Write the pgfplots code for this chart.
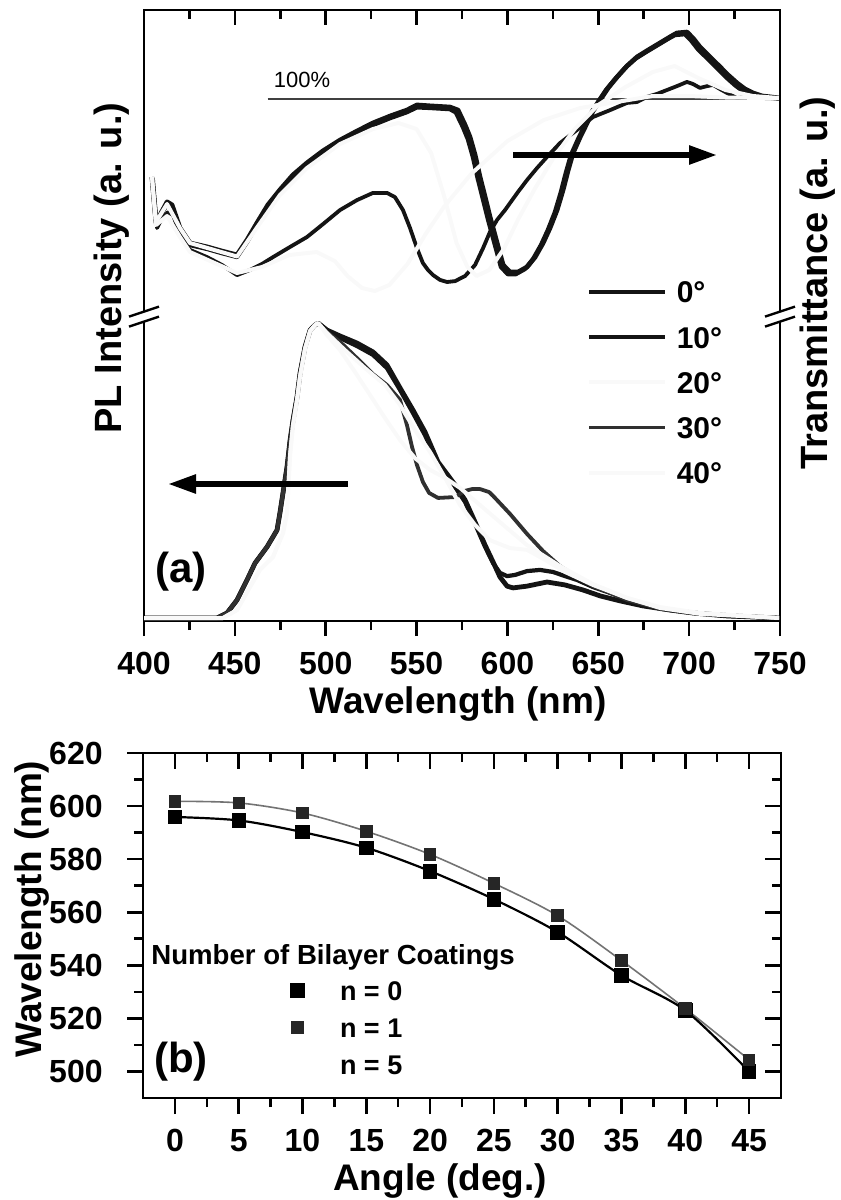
\documentclass[border=0pt]{standalone}
\usepackage{fontspec}
\setmainfont{Liberation Sans}
\usepackage{pgfplots}
\pgfplotsset{compat=1.18}
\usetikzlibrary{arrows.meta}
\definecolor{dk}{gray}{0.08}
\definecolor{lt}{gray}{0.975}
\begin{document}
\begin{tikzpicture}
\useasboundingbox (0,0) rectangle (420.5pt,-600pt);

% ---------- panel (a): transmittance (upper part), top ticks ----------
\begin{axis}[
  at={(72pt,-310.5pt)}, anchor=south west, scale only axis,
  width=318pt, height=305.5pt,
  xmin=400, xmax=750, ymin=-74, ymax=129.667,
  xtick={400,450,...,750}, minor x tick num=1,
  xtick pos=right, tick align=inside, xticklabels={},
  ytick=\empty,
  major tick length=7.5pt, minor tick length=4.5pt,
  axis line style={line width=1.3pt},
  tick style={black, line width=1.3pt},
]
\addplot[black!75, line width=0.6pt] coordinates {(468,100) (750,100)};
% 0 deg
\addplot[dk, line width=2.4pt, line join=round] coordinates {
(404.4,74.0)(406.6,59.0)(408.8,61.3)(412.7,65.7)(415.4,64.7)(419.8,57.0)(425.3,52.0)(434.7,50.7)(442.9,49.3)(451.2,48.0)(456.7,53.0)(462.2,58.7)(468.2,64.7)(474.8,69.7)(482.0,74.7)(489.7,78.7)(498.5,82.7)(507.9,86.3)(517.2,89.3)(526.0,92.0)(535.4,94.3)(544.7,96.3)(550.2,98.0)(557.4,97.7)(568.4,97.3)(572.8,96.3)(576.7,91.3)(579.4,87.3)(582.2,81.3)(584.9,74.0)(587.7,67.3)(590.4,60.7)(594.3,52.0)(597.6,44.7)(601.4,42.3)(605.8,42.3)(610.8,44.0)(615.2,47.3)(619.6,52.0)(623.4,57.0)(627.3,63.0)(630.6,69.7)(633.4,76.3)(636.1,82.0)(640.0,87.3)(643.8,92.0)(647.1,96.0)(651.0,99.7)(655.4,103.7)(660.3,107.3)(665.8,111.0)(671.3,114.0)(677.4,116.3)(684.0,118.7)(689.5,120.7)(693.3,122.0)(698.8,122.3)(702.1,120.3)(706.0,117.3)(711.5,114.0)(717.0,110.7)(721.4,108.0)(726.4,105.3)(730.8,103.3)(735.2,102.0)(740.1,101.0)(744.5,100.7)(750.0,100.3)};
% 10 deg
\addplot[dk, line width=2.1pt, line join=round] coordinates {
(404.4,73.5)(406.6,58.4)(408.8,60.6)(412.7,65.0)(415.4,64.0)(419.8,56.3)(425.3,51.3)(434.7,50.0)(442.9,48.6)(451.2,47.3)(456.7,52.3)(462.2,58.0)(468.2,64.0)(474.8,69.0)(482.0,74.0)(489.7,78.0)(498.5,82.0)(507.9,85.6)(517.2,88.6)(526.0,91.3)(535.4,93.6)(544.7,95.6)(550.2,97.2)(557.4,97.0)(568.4,96.6)(571.6,95.5)(575.5,90.6)(578.2,86.6)(581.0,80.6)(583.7,73.3)(586.5,66.6)(589.2,60.0)(593.1,51.3)(596.4,44.0)(600.2,41.6)(604.6,41.6)(609.6,43.3)(614.0,46.6)(618.4,51.3)(622.2,56.3)(626.1,62.3)(629.4,69.0)(632.2,75.6)(634.9,81.3)(638.8,86.6)(642.6,91.3)(645.9,95.3)(649.8,99.0)(654.2,103.0)(659.1,106.6)(664.6,110.3)(670.1,113.3)(676.2,115.6)(682.8,118.0)(688.3,120.0)(692.1,121.3)(697.6,121.6)(700.9,119.6)(704.8,116.6)(710.3,113.3)(715.8,110.0)(720.2,107.3)(725.2,104.6)(729.6,102.6)(734.0,101.4)(740.1,100.6)(744.5,100.4)(750.0,100.1)};
% 30 deg
\addplot[dk, line width=1.9pt, line join=round] coordinates {
(405.0,73.0)(407.2,57.0)(409.4,59.7)(413.2,62.3)(416.0,61.3)(419.8,54.7)(425.3,49.7)(434.7,47.3)(442.9,44.7)(451.2,41.3)(458.3,43.0)(464.9,45.0)(471.0,47.3)(480.4,50.7)(489.7,54.0)(498.5,58.3)(507.9,63.0)(517.2,66.3)(526.0,68.7)(533.7,68.7)(538.1,67.3)(542.5,63.0)(546.4,57.0)(550.2,50.3)(553.5,45.3)(556.3,43.0)(559.1,41.3)(562.9,39.7)(566.8,39.0)(571.2,39.3)(576.7,41.0)(582.2,44.7)(586.6,50.3)(590.4,55.7)(594.3,59.7)(598.7,63.0)(601.4,65.3)(605.8,69.0)(610.8,73.0)(616.3,77.0)(621.8,80.7)(628.9,85.3)(638.3,89.7)(647.1,94.0)(656.5,96.3)(665.8,98.7)(671.3,99.0)(676.8,100.7)(682.3,101.7)(687.8,103.0)(693.3,104.3)(698.8,105.7)(702.1,105.0)(706.0,103.7)(709.9,104.3)(713.2,104.7)(717.0,103.3)(720.9,102.0)(726.4,100.3)(730.8,100.7)(735.2,100.7)(741.8,100.3)(750.0,100.3)};
% 20 deg (nearly white)
\addplot[lt, line width=2pt, line join=round] coordinates {
(404.4,74)(406.6,59)(412.7,65)(419.8,57)(425.3,52)(451.2,47.5)(462,57)(474.8,68)(489.7,77)(507.9,85)(526,90)(540,92)(550,90)(558,82)(565,68)(572,52)(578,44)(583,41)(590,43)(598,50)(606,60)(615,70)(625,80)(637,90)(650,98)(665,104)(680,109)(692,111)(705,107)(720,103)(735,101)(750,100.3)};
% 40 deg (nearly white)
\addplot[lt, line width=2pt, line join=round] coordinates {
(404.4,74)(406.6,58)(412.7,61)(419.8,54)(425.3,49)(451.2,42)(465,44)(480,48)(495,49)(505,46)(512,41)(520,37)(527,36)(535,38)(545,45)(555,55)(565,64)(580,75)(600,86)(620,93)(640,97)(660,99)(680,101)(700,101)(720,100.5)(750,100.3)};
\end{axis}

% ---------- panel (a): PL (lower part), bottom ticks, legend ----------
\begin{axis}[
  at={(72pt,-310.5pt)}, anchor=south west, scale only axis,
  width=318pt, height=305.5pt,
  xmin=400, xmax=750, ymin=-0.0102, ymax=2.061,
  xtick={400,450,...,750}, minor x tick num=1,
  xtick pos=left, tick align=outside,
  ytick=\empty,
  major tick length=7.5pt, minor tick length=4.5pt,
  axis line style={line width=1.3pt},
  tick style={black, line width=1.3pt},
  /pgf/number format/assume math mode=true,
  xticklabel style={font=\fontsize{16}{19}\selectfont\bfseries, inner sep=0pt, anchor=north, yshift=-8pt},
  legend style={at={(0.6965,0.5565)}, anchor=north west, draw=none, fill=none,
    inner sep=0pt, outer sep=0pt, row sep=11.6pt, column sep=4.5pt,
    font=\fontsize{15}{18}\selectfont\bfseries,
    nodes={inner sep=0pt, text height=11pt, text depth=0pt}},
  legend cell align=left,
  legend image code/.code={\draw[#1] (0pt,0pt) -- (38pt,0pt);},
]
% 0 deg
\addplot[dk, line width=2.4pt, line join=round] coordinates {
(400.0,0)(440.2,0)(445.7,0.017)(451.2,0.061)(456.7,0.129)(461.1,0.186)(467.7,0.241)(473.2,0.298)(474.8,0.356)(476.5,0.424)(478.7,0.512)(480.4,0.603)(482.0,0.671)(484.2,0.749)(485.9,0.831)(488.6,0.919)(491.4,0.976)(494.1,0.993)(495.8,1.000)
(500.7,0.976)(507.9,0.956)(517.2,0.932)(526.0,0.902)(533.7,0.858)(540.9,0.780)(548.0,0.705)(554.6,0.631)(561.8,0.529)(571.2,0.451)(576.7,0.400)(582.2,0.325)(587.7,0.247)(592.1,0.190)(595.9,0.139)(599.8,0.108)(603.1,0.102)(610.8,0.108)(621.8,0.122)(631.7,0.112)(641.6,0.095)(651.0,0.075)(662.0,0.058)(674.6,0.041)(689.5,0.027)(702.1,0.017)(720.9,0.007)(749.5,0.0)};
\addlegendentry{0°}
% 10 deg
\addplot[dk, line width=2.1pt, line join=round] coordinates {
(400.0,0)(440.2,0)(445.7,0.017)(451.2,0.061)(456.7,0.129)(461.1,0.186)(467.7,0.241)(473.2,0.298)(474.8,0.356)(476.5,0.424)(478.7,0.512)(480.4,0.603)(482.0,0.671)(484.2,0.749)(485.9,0.831)(488.6,0.919)(491.4,0.976)(494.1,0.993)(495.8,1.000)
(500.7,0.973)(507.9,0.949)(517.2,0.922)(526.0,0.892)(533.7,0.847)(540.9,0.773)(548.0,0.695)(554.6,0.620)(561.8,0.522)(571.2,0.444)(576.7,0.393)(582.2,0.319)(587.7,0.241)(592.1,0.186)(595.9,0.153)(599.8,0.142)(604.2,0.146)(610.8,0.159)(617.9,0.163)(625.1,0.156)(631.7,0.142)(638.3,0.129)(647.1,0.105)(656.5,0.085)(665.8,0.064)(674.6,0.044)(689.5,0.027)(702.1,0.017)(720.9,0.007)(749.5,0.0)};
\addlegendentry{10°}
\addlegendimage{lt, line width=2pt}
\addlegendentry{20°}
% 30 deg
\addplot[dk!88, line width=1.9pt, line join=round] coordinates {
(400.0,0)(440.2,0)(445.7,0.017)(451.2,0.061)(456.7,0.129)(461.1,0.186)(467.7,0.241)(473.2,0.298)(474.8,0.356)(476.5,0.424)(478.7,0.512)(480.4,0.603)(482.0,0.671)(484.2,0.749)(485.9,0.831)(488.6,0.919)(491.4,0.976)(494.1,0.993)(495.8,1.000)
(500.7,0.969)(507.9,0.936)(517.2,0.881)(526.0,0.827)(533.7,0.790)(540.9,0.739)(544.7,0.654)(547.5,0.580)(550.2,0.519)(553.5,0.461)(556.9,0.424)(561.8,0.407)(571.2,0.410)(576.7,0.431)(580.5,0.437)(584.9,0.437)(589.9,0.427)(592.1,0.414)(601.4,0.353)(610.8,0.285)(619.6,0.227)(628.9,0.176)(638.3,0.139)(647.1,0.108)(656.5,0.085)(665.8,0.061)(674.6,0.047)(684.0,0.031)(698.3,0.020)(721.4,0.010)(749.5,0.0)};
\addlegendentry{30°}
\addlegendimage{lt, line width=2pt}
\addlegendentry{40°}
% 20 deg (nearly white)
\addplot[lt, line width=2pt, line join=round, forget plot] coordinates {
(400,0)(443.5,0)(451.2,0.027)(458.3,0.105)(463.8,0.163)(471.0,0.207)(476.5,0.288)(478.7,0.356)(480.4,0.553)(482.0,0.654)(484.2,0.739)(485.9,0.820)(488.6,0.912)(491.4,0.973)(494.1,0.993)(495.8,1.0)
(500.7,0.966)(510.6,0.908)(521.6,0.847)(532.6,0.790)(540.9,0.722)(549.1,0.637)(557.4,0.563)(565.7,0.475)(573.9,0.383)(582.2,0.315)(590.4,0.264)(601.4,0.237)(610.8,0.231)(620.7,0.197)(631.7,0.156)(647.1,0.112)(665.8,0.068)(684.0,0.034)(706.0,0.014)(749.5,0.0)};
% 40 deg (nearly white)
\addplot[lt, line width=2pt, line join=round, forget plot] coordinates {
(400,0)(443.5,0)(451.2,0.027)(458.3,0.105)(463.8,0.163)(471.0,0.207)(476.5,0.288)(478.7,0.356)(480.4,0.553)(482.0,0.654)(484.2,0.739)(485.9,0.820)(488.6,0.912)(491.4,0.973)(494.1,0.993)(495.8,1.0)
(500.7,0.959)(507.9,0.908)(516.1,0.834)(524.4,0.756)(532.6,0.678)(540.9,0.603)(549.1,0.542)(557.4,0.502)(565.7,0.475)(573.9,0.441)(584.9,0.383)(595.9,0.325)(610.8,0.247)(628.9,0.176)(647.1,0.115)(665.8,0.068)(684.0,0.037)(706.0,0.017)(749.5,0.0)};
\end{axis}

% axis breaks
\foreach \bx in {72pt,390pt}{
  \fill[white] ([xshift=-2pt]\bx,-160.5pt) rectangle ([xshift=2pt]\bx,-156pt);
  \draw[line width=1.2pt] ([xshift=-7.5pt]\bx,-158.3pt) -- ([xshift=7.5pt]\bx,-153.3pt);
  \draw[line width=1.2pt] ([xshift=-7.5pt]\bx,-163.3pt) -- ([xshift=7.5pt]\bx,-158.3pt);
}
% arrows
\draw[line width=2.8pt, -{Triangle[length=14pt,width=9pt]}] (174pt,-242pt) -- (84pt,-242pt);
\draw[line width=2.8pt, -{Triangle[length=14pt,width=9pt]}] (256.5pt,-77.5pt) -- (358.5pt,-77.5pt);
% texts panel (a)
\node[font=\fontsize{11}{13}\selectfont, inner sep=0pt] at (151pt,-40pt) {100\%};
\node[font=\fontsize{21}{25}\selectfont\bfseries, inner sep=0pt] at (90.5pt,-286pt) {(a)};
\node[font=\fontsize{18.5}{22}\selectfont\bfseries, inner sep=0pt] at (229pt,-352pt) {Wavelength (nm)};
\node[font=\fontsize{19}{22}\selectfont\bfseries, inner sep=0pt, rotate=90] at (56pt,-134pt) {PL Intensity (a. u.)};
\node[font=\fontsize{19}{22}\selectfont\bfseries, inner sep=0pt, rotate=90] at (409pt,-141.5pt) {Transmittance (a. u.)};

% ---------- panel (b) ----------
\begin{axis}[
  at={(71.5pt,-549pt)}, anchor=south west, scale only axis,
  width=319pt, height=172.5pt,
  xmin=-2.5, xmax=47.5, ymin=490, ymax=620,
  xtick={0,5,...,45}, ytick={500,520,...,620},
  minor x tick num=1, minor y tick num=1,
  xtick pos=right, ytick pos=right, tick align=inside,
  xticklabels={}, yticklabels={},
  major tick length=8pt, minor tick length=4.5pt,
  axis line style={line width=1.3pt},
  tick style={black, line width=1.3pt},
]
\addplot[draw=none] coordinates {(0,600)};
\end{axis}
\begin{axis}[
  at={(71.5pt,-549pt)}, anchor=south west, scale only axis,
  width=319pt, height=172.5pt,
  xmin=-2.5, xmax=47.5, ymin=490, ymax=620,
  xtick={0,5,...,45}, ytick={500,520,...,620},
  minor x tick num=1, minor y tick num=1,
  xtick pos=left, ytick pos=left, tick align=outside,
  major tick length=8pt, minor tick length=4.5pt,
  axis line style={line width=1.3pt},
  tick style={black, line width=1.3pt},
  /pgf/number format/assume math mode=true,
  xticklabel style={font=\fontsize{16}{19}\selectfont\bfseries, inner sep=0pt, anchor=north, yshift=-7.5pt},
  yticklabel style={font=\fontsize{16}{19}\selectfont\bfseries, inner sep=0pt, anchor=east, xshift=-12pt},
  legend style={at={(0.2315,0.3391)}, anchor=north west, draw=none, fill=none,
    inner sep=0pt, outer sep=0pt, row sep=9pt, column sep=17.85pt,
    font=\fontsize{13.5}{16}\selectfont\bfseries,
    nodes={inner sep=0pt, text height=9.5pt, text depth=0pt}},
  legend cell align=left,
  legend image code/.code={\draw[#1] plot coordinates {(0pt,0pt)};},
]
\addplot[smooth, black!55, line width=0.8pt, forget plot] coordinates {
(0,601.8)(5,601.2)(10,597.4)(15,590.5)(20,581.8)(25,570.9)(30,558.7)(35,541.8)(40,523.7)(45,504.4)};
\addplot[smooth, black, line width=1.1pt, forget plot] coordinates {
(0,595.9)(5,594.6)(10,590.2)(15,584.3)(20,575.5)(25,564.9)(30,552.5)(35,536.2)(40,523.0)(45,500.0)};
\addplot[only marks, mark=square*, mark size=3.4pt, black] coordinates {
(0,595.9)(5,594.6)(10,590.2)(15,584.3)(20,575.5)(25,564.9)(30,552.5)(35,536.2)(40,523.0)(45,500.0)};
\addlegendentry{n = 0}
\addplot[only marks, mark=square*, mark size=2.9pt, black!85] coordinates {
(0,601.8)(5,601.2)(10,597.4)(15,590.5)(20,581.8)(25,570.9)(30,558.7)(35,541.8)(40,523.7)(45,504.4)};
\addlegendentry{n = 1}
\addlegendimage{only marks, mark=square*, mark size=3.2pt, white}
\addlegendentry{n = 5}
\end{axis}
\node[font=\fontsize{13.8}{16}\selectfont\bfseries, inner sep=0pt, anchor=west] at (75.5pt,-478.5pt) {Number of Bilayer Coatings};
\node[font=\fontsize{21}{25}\selectfont\bfseries, inner sep=0pt] at (90.5pt,-531pt) {(b)};
\node[font=\fontsize{18.5}{22}\selectfont\bfseries, inner sep=0pt] at (220pt,-590.5pt) {Angle (deg.)};
\node[font=\fontsize{18.5}{22}\selectfont\bfseries, inner sep=0pt, rotate=90] at (16pt,-454.5pt) {Wavelength (nm)};
\end{tikzpicture}
\end{document}
